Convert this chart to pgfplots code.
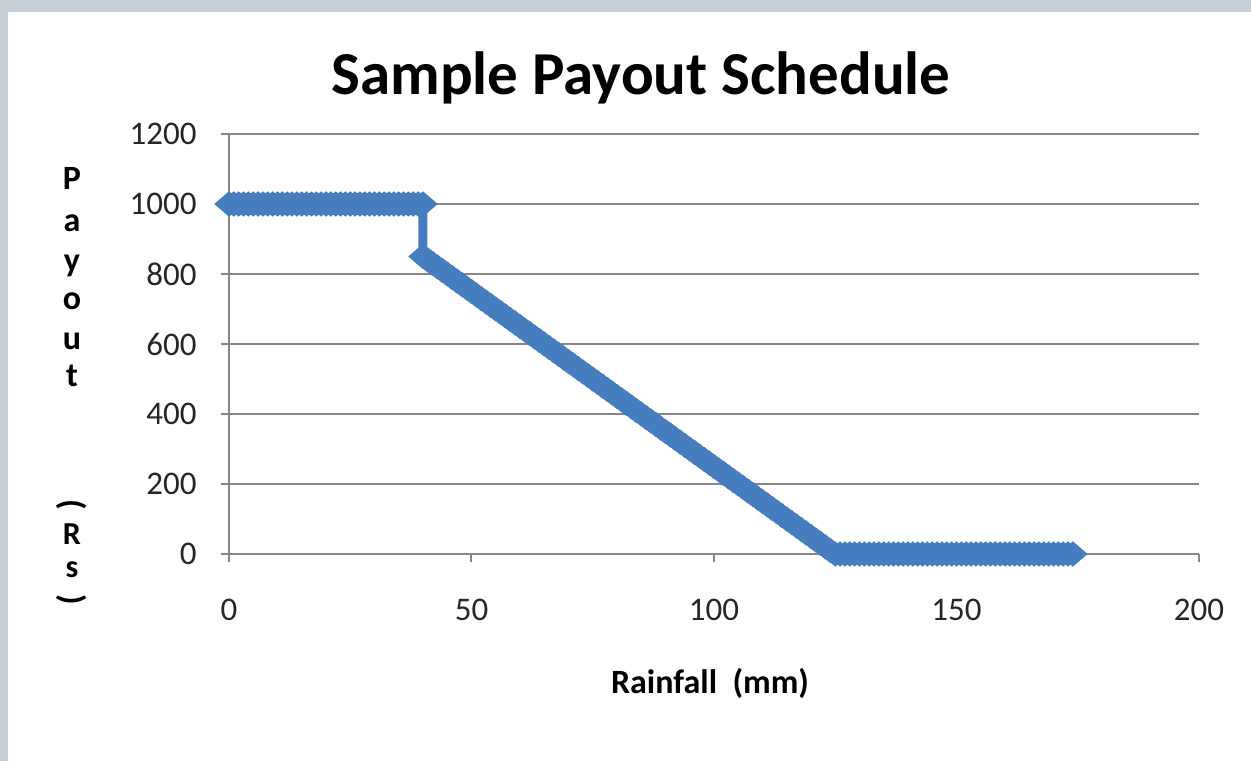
\documentclass[border=0pt]{standalone}
\usepackage{fontspec}
\setmainfont{Carlito}
\usepackage{pgfplots}
\pgfplotsset{compat=1.18}
\definecolor{payblue}{RGB}{70,125,190}
\definecolor{gridgray}{RGB}{134,134,134}
\definecolor{frame}{RGB}{197,207,215}

\begin{document}
\begin{tikzpicture}
% background: page is 1251x761 px at 0.5bp per px, origin at plot-area lower left
\fill[frame] (-114.5bp,-103.5bp) rectangle (511bp,277bp);
\fill[white] (-110.5bp,-103.5bp) rectangle (511bp,271bp);
\begin{axis}[
  scale only axis,
  width=485bp, height=210bp,
  xmin=0, xmax=200, ymin=0, ymax=1200,
  xtick distance=50, ytick distance=200,
  axis x line=bottom, axis y line=left,
  axis line style={gridgray, line width=1bp, -},
  ymajorgrids, grid style={gridgray, line width=1bp},
  tick style={gridgray, line width=1bp},
  tick align=outside,
  major tick length=4bp,
  /pgf/number format/assume math mode=true,
  /pgf/number format/1000 sep={},
  tick label style={font=\fontsize{16.5bp}{19bp}\selectfont, text=black!85},
  yticklabel style={anchor=east, inner sep=0pt, xshift=-12bp},
  xticklabel style={anchor=center, inner sep=0pt, yshift=-24bp},
  clip=false,
]
\addplot[color=payblue, line width=4.5bp, mark=diamond*, mark size=6bp,
  mark options={xscale=1.55, fill=payblue, draw=payblue, line width=0.5bp}]
coordinates {
(0,1000)(1,1000)(2,1000)(3,1000)(4,1000)(5,1000)(6,1000)(7,1000)(8,1000)(9,1000)
(10,1000)(11,1000)(12,1000)(13,1000)(14,1000)(15,1000)(16,1000)(17,1000)(18,1000)(19,1000)
(20,1000)(21,1000)(22,1000)(23,1000)(24,1000)(25,1000)(26,1000)(27,1000)(28,1000)(29,1000)
(30,1000)(31,1000)(32,1000)(33,1000)(34,1000)(35,1000)(36,1000)(37,1000)(38,1000)(39,1000)
(40,1000)
(40,850)(41,840)(42,830)(43,820)(44,810)(45,800)(46,790)(47,780)(48,770)(49,760)
(50,750)(51,740)(52,730)(53,720)(54,710)(55,700)(56,690)(57,680)(58,670)(59,660)
(60,650)(61,640)(62,630)(63,620)(64,610)(65,600)(66,590)(67,580)(68,570)(69,560)
(70,550)(71,540)(72,530)(73,520)(74,510)(75,500)(76,490)(77,480)(78,470)(79,460)
(80,450)(81,440)(82,430)(83,420)(84,410)(85,400)(86,390)(87,380)(88,370)(89,360)
(90,350)(91,340)(92,330)(93,320)(94,310)(95,300)(96,290)(97,280)(98,270)(99,260)
(100,250)(101,240)(102,230)(103,220)(104,210)(105,200)(106,190)(107,180)(108,170)(109,160)
(110,150)(111,140)(112,130)(113,120)(114,110)(115,100)(116,90)(117,80)(118,70)(119,60)
(120,50)(121,40)(122,30)(123,20)(124,10)(125,0)(126,0)(127,0)(128,0)(129,0)
(130,0)(131,0)(132,0)(133,0)(134,0)(135,0)(136,0)(137,0)(138,0)(139,0)
(140,0)(141,0)(142,0)(143,0)(144,0)(145,0)(146,0)(147,0)(148,0)(149,0)
(150,0)(151,0)(152,0)(153,0)(154,0)(155,0)(156,0)(157,0)(158,0)(159,0)
(160,0)(161,0)(162,0)(163,0)(164,0)(165,0)(166,0)(167,0)(168,0)(169,0)
(170,0)(171,0)(172,0)(173,0)(174,0)
};
\end{axis}
% title and axis titles
\node[anchor=base, font=\fontsize{30.5bp}{36bp}\selectfont\bfseries] at (206bp,229.5bp) {Sample Payout Schedule};
\node[anchor=base, font=\fontsize{17bp}{20bp}\selectfont\bfseries] at (240.5bp,-69.5bp) {Rainfall\ \ (mm)};
\begin{scope}[every node/.style={anchor=base, inner sep=0pt, font=\fontsize{17bp}{20bp}\selectfont\bfseries}]
\node at (-78.5bp,182bp) {P};
\node at (-78.5bp,161bp) {a};
\node at (-78.5bp,141bp) {y};
\node at (-78.5bp,122bp) {o};
\node at (-78.5bp,102bp) {u};
\node at (-78.5bp,83.5bp) {t};
\node[font=\fontsize{16bp}{18bp}\selectfont\bfseries] at (-78.5bp,5bp) {R};
\node[font=\fontsize{16bp}{18bp}\selectfont\bfseries] at (-78.5bp,-11.5bp) {s};
\end{scope}
\node[inner sep=0pt, font=\fontsize{17bp}{20bp}\selectfont\bfseries, rotate=-90] at (-78.5bp,24.5bp) {(};
\node[inner sep=0pt, font=\fontsize{17bp}{20bp}\selectfont\bfseries, rotate=-90] at (-78.5bp,-23bp) {)};
\end{tikzpicture}
\end{document}
